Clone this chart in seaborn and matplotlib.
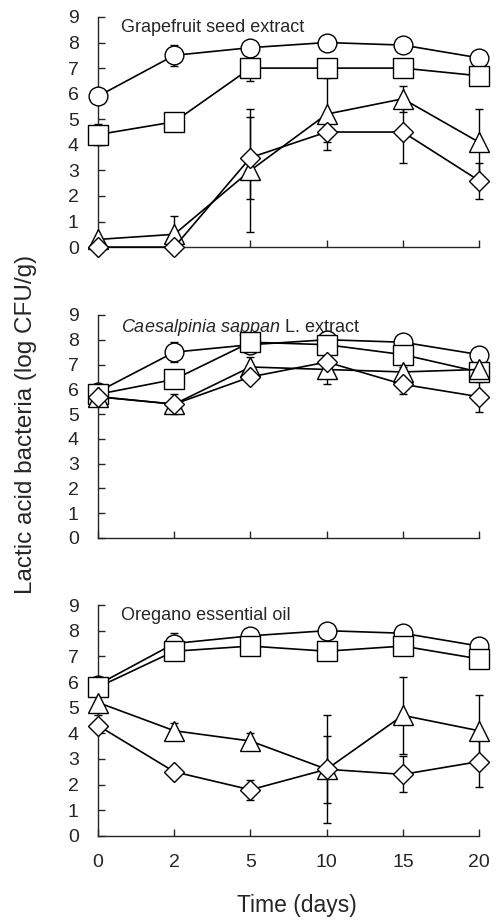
import numpy as np
import pandas as pd
import matplotlib
matplotlib.use('Agg')
import matplotlib.pyplot as plt
import seaborn as sns

# x categories (days), equally spaced on the axis
days = ['0', '2', '5', '10', '15', '20']
panel_titles = ['Grapefruit seed extract',
                r'$\it{Caesalpinia\ sappan}$ L. extract',
                'Oregano essential oil']

# panel 1 - grapefruit seed extract
gse_circle = [5.9, 7.5, 7.8, 8.0, 7.9, 7.4]
gse_circle_err = [0.1, 0.4, 0.1, 0.1, 0.1, 0.1]
gse_square = [4.4, 4.9, 7.0, 7.0, 7.0, 6.7]
gse_square_err = [0.4, 0.1, 0.5, 0.1, 0.1, 0.1]
gse_triangle = [0.3, 0.5, 3.0, 5.2, 5.8, 4.1]
gse_triangle_err = [0.1, 0.7, 2.4, 1.4, 0.5, 1.3]
gse_diamond = [0.0, 0.0, 3.5, 4.5, 4.5, 2.6]
gse_diamond_err = [0.0, 0.0, 1.6, 0.4, 1.2, 0.7]

# panel 2 - Caesalpinia sappan L. extract
csl_circle = [5.9, 7.5, 7.8, 8.0, 7.9, 7.4]
csl_circle_err = [0.1, 0.4, 0.2, 0.1, 0.1, 0.1]
csl_square = [5.8, 6.4, 7.9, 7.8, 7.4, 6.7]
csl_square_err = [0.1, 0.1, 0.1, 0.1, 0.1, 0.1]
csl_triangle = [5.7, 5.4, 6.9, 6.8, 6.7, 6.8]
csl_triangle_err = [0.1, 0.4, 0.4, 0.6, 0.2, 0.2]
csl_diamond = [5.7, 5.4, 6.5, 7.1, 6.2, 5.7]
csl_diamond_err = [0.1, 0.1, 0.1, 0.3, 0.4, 0.6]

# panel 3 - oregano essential oil
oeo_circle = [5.9, 7.5, 7.8, 8.0, 7.9, 7.4]
oeo_circle_err = [0.1, 0.4, 0.1, 0.1, 0.1, 0.1]
oeo_square = [5.8, 7.2, 7.4, 7.2, 7.4, 6.9]
oeo_square_err = [0.1, 0.1, 0.1, 0.1, 0.1, 0.1]
oeo_triangle = [5.2, 4.1, 3.7, 2.6, 4.7, 4.1]
oeo_triangle_err = [0.5, 0.3, 0.3, 2.1, 1.5, 1.4]
oeo_diamond = [4.3, 2.5, 1.8, 2.6, 2.4, 2.9]
oeo_diamond_err = [0.1, 0.1, 0.4, 1.3, 0.7, 1.0]

panels = [
    [(gse_circle, gse_circle_err), (gse_square, gse_square_err),
     (gse_triangle, gse_triangle_err), (gse_diamond, gse_diamond_err)],
    [(csl_circle, csl_circle_err), (csl_square, csl_square_err),
     (csl_triangle, csl_triangle_err), (csl_diamond, csl_diamond_err)],
    [(oeo_circle, oeo_circle_err), (oeo_square, oeo_square_err),
     (oeo_triangle, oeo_triangle_err), (oeo_diamond, oeo_diamond_err)],
]
markers = ['o', 's', '^', 'D']
msizes = [13.5, 14, 14, 10]

sns.set_style('ticks')
plt.rcParams['font.family'] = ['Liberation Sans', 'DejaVu Sans']
plt.rcParams['mathtext.fontset'] = 'custom'
plt.rcParams['mathtext.it'] = 'Liberation Sans:italic'
plt.rcParams['mathtext.rm'] = 'Liberation Sans'

fig = plt.figure(figsize=(4.98, 9.22), dpi=100)
boxes = [(0.197, 0.732, 0.765, 0.2496),
         (0.197, 0.4165, 0.765, 0.2419),
         (0.197, 0.0933, 0.765, 0.2505)]

for i, (box, series) in enumerate(zip(boxes, panels)):
    ax = fig.add_axes(box)
    pos = np.arange(len(days))
    for j, (vals, errs) in enumerate(series):
        ax.errorbar(pos, vals, yerr=errs, fmt='none', ecolor='black',
                    elinewidth=1, capsize=3, capthick=1, zorder=2 + j * 0.1,
                    clip_on=False)
        df = pd.DataFrame({'pos': pos, 'val': vals})
        sns.lineplot(data=df, x='pos', y='val', ax=ax, color='black',
                     marker=markers[j], markersize=msizes[j],
                     markerfacecolor='white', markeredgecolor='black',
                     markeredgewidth=1, linewidth=1.2, clip_on=False,
                     zorder=3 + j * 0.1)
    ax.set_xlim(0, 5)
    ax.set_ylim(0, 9)
    ax.set_yticks(range(0, 10))
    ax.set_xticks(pos)
    if i == 2:
        ax.set_xticklabels(days)
    else:
        ax.set_xticklabels([])
    ax.tick_params(direction='in', length=5, width=1, labelsize=14, pad=14)
    ax.tick_params(axis='x', pad=13)
    ax.set_xlabel('')
    ax.set_ylabel('')
    sns.despine(ax=ax)
    for s in ['left', 'bottom']:
        ax.spines[s].set_linewidth(1)
    ax.text(0.06, 0.99, panel_titles[i], transform=ax.transAxes,
            fontsize=13, va='top', ha='left')

fig.text(0.052, 0.54, 'Lactic acid bacteria (log CFU/g)', rotation=90,
         fontsize=17.5, va='center', ha='center')
fig.text(0.596, 0.018, 'Time (days)', fontsize=16.5, va='center', ha='center')

fig.savefig('out.png', dpi=100)
